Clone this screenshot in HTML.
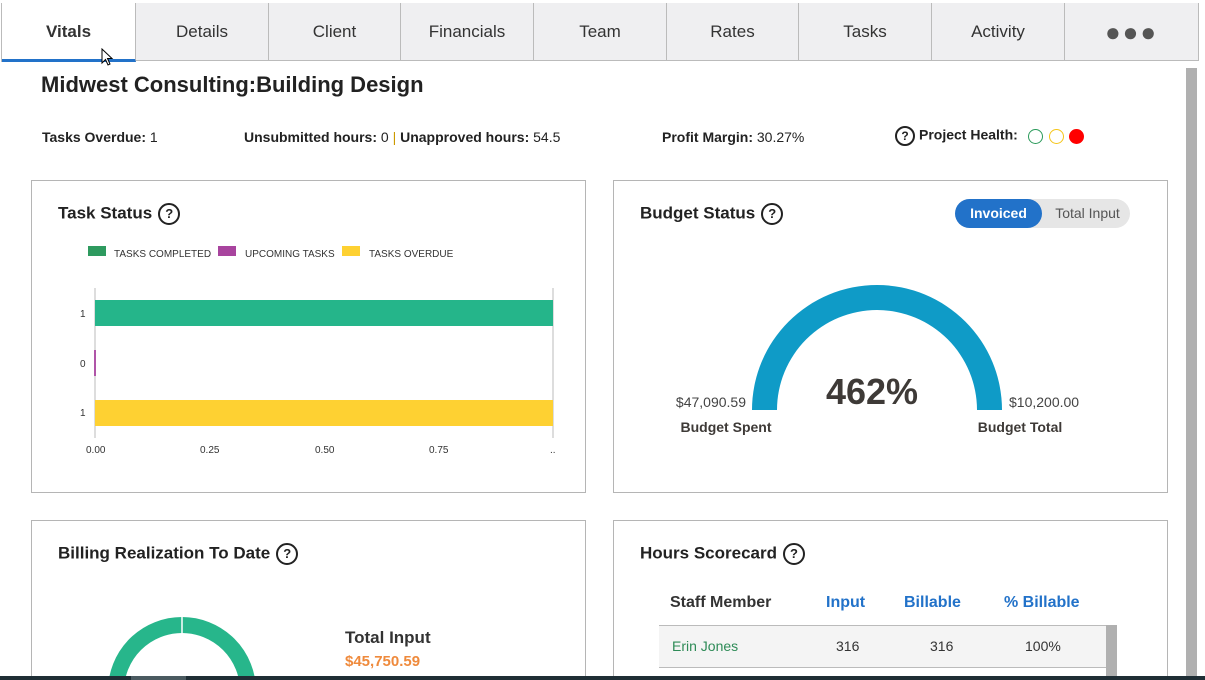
<!DOCTYPE html>
<html><head><meta charset="utf-8"><style>
*{box-sizing:border-box;margin:0;padding:0}
html,body{width:1205px;height:680px;overflow:hidden}
body{background:#fff;font-family:"Liberation Sans",sans-serif;color:#222;position:relative}
.abs{position:absolute}
.tab{position:absolute;top:3px;height:58px;background:#efeff1;border-right:1px solid #bbb;border-bottom:1px solid #bbb;font-size:17px;color:#333;text-align:center;line-height:58px}
.card{position:absolute;border:1px solid #b5b5b5;border-bottom:none;background:#fff}
.h{font-weight:bold;font-size:17px;color:#222}
.q{display:inline-block;width:22px;height:22px;border:2px solid #222;border-radius:50%;font-size:13px;font-weight:bold;text-align:center;line-height:18px;vertical-align:middle;margin-left:6px}
.lbl{font-size:14px;color:#222}
</style></head><body>
<div class="abs" style="left:1px;top:3px;width:1198px;height:59px;border-top:1px solid #bbb;border-left:1px solid #bbb"></div>
<div class="tab" style="left:2px;width:134px;background:#fff;font-weight:bold;border-bottom:3px solid #2272c9;height:59px">Vitals</div>
<div class="tab" style="left:136px;width:133px">Details</div>
<div class="tab" style="left:269px;width:132px">Client</div>
<div class="tab" style="left:401px;width:133px">Financials</div>
<div class="tab" style="left:534px;width:133px">Team</div>
<div class="tab" style="left:667px;width:132px">Rates</div>
<div class="tab" style="left:799px;width:133px">Tasks</div>
<div class="tab" style="left:932px;width:133px">Activity</div>
<div class="tab" style="left:1065px;width:134px;font-size:26px;letter-spacing:2px;color:#555;font-weight:bold">●●●</div>
<div class="abs" style="left:1186px;top:68px;width:11px;height:608px;background:#b0b0b0"></div>
<div class="abs" style="left:41px;top:72px;font-size:22px;font-weight:bold">Midwest Consulting:Building Design</div>
<div class="abs lbl" style="left:42px;top:129px"><b>Tasks Overdue:</b> 1</div>
<div class="abs lbl" style="left:244px;top:129px"><b>Unsubmitted hours:</b> 0 <span style="color:#c90">|</span> <b>Unapproved hours:</b> 54.5</div>
<div class="abs lbl" style="left:662px;top:129px"><b>Profit Margin:</b> 30.27%</div>
<div class="abs lbl" style="left:895px;top:126px;white-space:nowrap"><span class="q" style="width:20px;height:20px;line-height:16px;font-size:12px;margin:0 4px 0 0">?</span><b>Project Health:</b>
<span style="display:inline-block;width:15px;height:15px;border:1.5px solid #2a9a5a;border-radius:50%;vertical-align:middle;margin-left:6px"></span>
<span style="display:inline-block;width:15px;height:15px;border:1.5px solid #f5c518;border-radius:50%;vertical-align:middle;margin-left:2px"></span>
<span style="display:inline-block;width:15px;height:15px;background:#f00;border-radius:50%;vertical-align:middle;margin-left:2px"></span></div>

<div class="card" style="left:31px;top:180px;width:555px;height:313px;border-bottom:1px solid #b5b5b5"></div>
<div class="abs h" style="left:58px;top:203px">Task Status<span class="q">?</span></div>
<svg class="abs" style="left:31px;top:180px" width="555" height="313" font-family="Liberation Sans" font-size="10" fill="#333">
<rect x="57" y="66" width="18" height="10" fill="#2e9a5f"/><text x="83" y="77">TASKS COMPLETED</text>
<rect x="187" y="66" width="18" height="10" fill="#a8449e"/><text x="214" y="77">UPCOMING TASKS</text>
<rect x="311" y="66" width="18" height="10" fill="#fed132"/><text x="338" y="77">TASKS OVERDUE</text>
<line x1="64" y1="108" x2="64" y2="258" stroke="#ddd" stroke-width="2"/>
<line x1="522" y1="108" x2="522" y2="258" stroke="#ddd" stroke-width="2"/>
<rect x="64" y="120" width="458" height="26" fill="#25b58a"/>
<rect x="63" y="170" width="2" height="26" fill="#b055a8"/>
<rect x="64" y="220" width="458" height="26" fill="#fed132"/>
<text x="49" y="137">1</text><text x="49" y="187">0</text><text x="49" y="236">1</text>
<text x="55" y="273">0.00</text><text x="169" y="273">0.25</text><text x="284" y="273">0.50</text><text x="398" y="273">0.75</text><text x="519" y="273">..</text>
</svg>

<div class="card" style="left:613px;top:180px;width:555px;height:313px;border-bottom:1px solid #b5b5b5"></div>
<div class="abs h" style="left:640px;top:203px">Budget Status<span class="q">?</span></div>
<div class="abs" style="left:955px;top:199px;width:175px;height:29px;border-radius:15px;background:#e6e6e6"></div>
<div class="abs" style="left:955px;top:199px;width:87px;height:29px;border-radius:15px;background:#2272c9;color:#fff;font-weight:bold;font-size:14px;text-align:center;line-height:29px">Invoiced</div>
<div class="abs" style="left:1045px;top:199px;width:85px;height:29px;color:#555;font-size:14px;text-align:center;line-height:29px">Total Input</div>
<svg class="abs" style="left:613px;top:180px" width="555" height="313" font-family="Liberation Sans">
<path d="M139 230 A125 125 0 0 1 389 230 L364 230 A100 100 0 0 0 164 230 Z" fill="#0f9bc7"/>
<text x="259" y="224" text-anchor="middle" font-size="36" font-weight="bold" fill="#3e3a37">462%</text>
<text x="133" y="227" text-anchor="end" font-size="14" fill="#444">$47,090.59</text>
<text x="396" y="227" font-size="14" fill="#444">$10,200.00</text>
<text x="113" y="252" text-anchor="middle" font-size="14" font-weight="bold" fill="#3e3a37">Budget Spent</text>
<text x="407" y="252" text-anchor="middle" font-size="14" font-weight="bold" fill="#3e3a37">Budget Total</text>
</svg>

<div class="card" style="left:31px;top:520px;width:555px;height:156px"></div>
<div class="abs h" style="left:58px;top:543px">Billing Realization To Date<span class="q">?</span></div>
<svg class="abs" style="left:31px;top:520px" width="555" height="156">
<circle cx="151" cy="171" r="66" fill="none" stroke="#27b68b" stroke-width="16"/>
<line x1="151" y1="96" x2="151" y2="114" stroke="#fff" stroke-width="1.5"/>
</svg>
<div class="abs" style="left:345px;top:628px;font-size:17px;font-weight:bold;color:#333">Total Input</div>
<div class="abs" style="left:345px;top:653px;font-size:15px;font-weight:bold;color:#ef8a3c">$45,750.59</div>

<div class="card" style="left:613px;top:520px;width:555px;height:156px"></div>
<div class="abs h" style="left:640px;top:543px">Hours Scorecard<span class="q">?</span></div>
<div class="abs" style="left:670px;top:594px;font-size:16px;font-weight:bold;color:#333">Staff Member</div>
<div class="abs" style="left:826px;top:594px;font-size:16px;font-weight:bold;color:#2272c9">Input</div>
<div class="abs" style="left:904px;top:594px;font-size:16px;font-weight:bold;color:#2272c9">Billable</div>
<div class="abs" style="left:1004px;top:594px;font-size:16px;font-weight:bold;color:#2272c9">% Billable</div>
<div class="abs" style="left:659px;top:625px;width:447px;height:43px;background:#f4f4f4;border-top:1px solid #bbb;border-bottom:1px solid #bbb"></div>
<div class="abs" style="left:1106px;top:625px;width:11px;height:51px;background:#b0b0b0"></div>
<div class="abs" style="left:672px;top:638px;font-size:14px;color:#2e8b57">Erin Jones</div>
<div class="abs" style="left:836px;top:638px;font-size:14px;color:#333">316</div>
<div class="abs" style="left:930px;top:638px;font-size:14px;color:#333">316</div>
<div class="abs" style="left:1025px;top:638px;font-size:14px;color:#333">100%</div>

<div class="abs" style="left:0;top:676px;width:1205px;height:4px;background:#1f2e35"></div>
<div class="abs" style="left:131px;top:676px;width:55px;height:4px;background:#4a5a60"></div>
<svg class="abs" style="left:101px;top:48px" width="14" height="20"><path d="M1 1 L1 15 L4.5 11.5 L7 17 L9 16 L6.5 10.5 L11 10.5 Z" fill="#fff" stroke="#000" stroke-width="1"/></svg>
</body></html>
